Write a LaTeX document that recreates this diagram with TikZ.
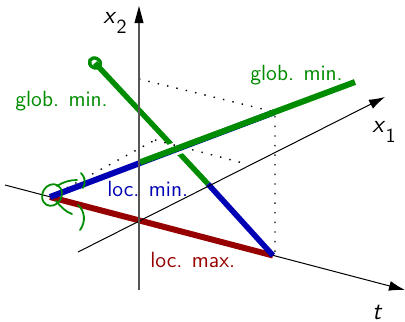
\documentclass[tikz,border=0pt]{standalone}
\usetikzlibrary{arrows.meta}
\definecolor{ggreen}{RGB}{0,140,0}
\definecolor{bblue}{RGB}{0,0,180}
\definecolor{rred}{RGB}{150,0,0}
\definecolor{axgray}{RGB}{85,85,85}
\begin{document}
\begin{tikzpicture}[x=0.5pt,y=-0.5pt,
  lbl/.style={inner sep=0pt,anchor=base west,font=\sffamily\fontsize{11}{13}\selectfont},
  axlbl/.style={inner sep=0pt,anchor=base west,font=\sffamily\fontsize{12.5}{14}\selectfont},
  dots/.style={line width=0.7pt,dash pattern=on 0.7pt off 4.1pt},
  thin axis/.style={line width=0.5pt,-{Latex[length=8pt,width=5pt]}},
  path/.style={line width=3pt},
  scribble/.style={ggreen,line width=0.9pt,line cap=round}]
\useasboundingbox (0,0) rectangle (405,321);
% coordinates
\coordinate (P0) at (50,197);
\coordinate (T) at (273,255.5);
\coordinate (Q) at (275,112);
\coordinate (G1) at (355,82);
\coordinate (C) at (140,162.3);
\coordinate (S) at (95,63);
\coordinate (M) at (208,184);
\coordinate (A) at (155,140);
\coordinate (B) at (243,163);
\coordinate (H) at (139,79);
\coordinate (Tb) at (275,256);
\coordinate (tS) at (5,185);
\coordinate (tE) at (405,290);
\coordinate (aS) at (78,252);
\coordinate (aE) at (385,97);
\coordinate (vS) at (139,290);
\coordinate (vE) at (139,6);
\coordinate (vA) at (139,23);
% dotted guides
\draw[dots] (H) -- (Q) -- (Tb);
\draw[dots] (P0) -- (A);
% t axis
\draw[thin axis] (tS) -- (tE);
% loc. max.
\draw[path,rred] (P0) -- (T);
% descending green
\draw[path,ggreen,line width=2.7pt] (S) -- (M);
% white halo at crossing
\draw[white,line width=6.5pt] (158,155.5) -- (196,141.2);
\draw[dots] (A) -- (B);
% loc. min.
\draw[path,bblue] (P0) -- (Q);
\draw[path,bblue,line width=2.8pt] (M) -- (T);
% glob. min. ascending
\draw[path,ggreen] (C) -- (G1);
% axes
\draw[thin axis] (aS) -- (aE);
\draw[axgray,line width=0.9pt] (vS) -- (vA);
\fill (vE) -- ([xshift=-2.3pt]vA) -- ([xshift=2.3pt]vA) -- cycle;
% scribbles
\draw[scribble,rotate around={-30:(52,195)}] (52,195) ellipse (4.8pt and 5.6pt);
\draw[scribble] (57,186) .. controls (63,182) and (70,180) .. (77,180);
\draw[scribble] (81,173) .. controls (85,177) and (86,183) .. (83,188);
\draw[scribble] (56,201) .. controls (61,207) and (66,212) .. (72,214);
\draw[scribble] (78,205) .. controls (85,211) and (86,222) .. (80,230);
\draw[ggreen,line width=1.7pt,rotate around={-30:(95,63)}] (95,63) ellipse (2.9pt and 2.4pt);
% labels
\node[lbl,text=ggreen] (gr) at (250,80) {glob. min.};
\node[lbl,text=ggreen] (gl) at (15,106.5) {glob. min.};
\node[lbl,text=bblue] (lmin) at (107,196) {loc. min.};
\node[lbl,text=rred] (lmax) at (150,267) {loc. max.};
\node[axlbl] (x1l) at (372,132) {\textit{x}\textsubscript{\raisebox{-0.9ex}{\normalsize 1}}};
\node[axlbl] (x2l) at (103,23) {\textit{x}\textsubscript{\raisebox{-0.9ex}{\normalsize 2}}};
\node[axlbl] (tl) at (372,319) {\textit{t}};
\end{tikzpicture}
\end{document}
